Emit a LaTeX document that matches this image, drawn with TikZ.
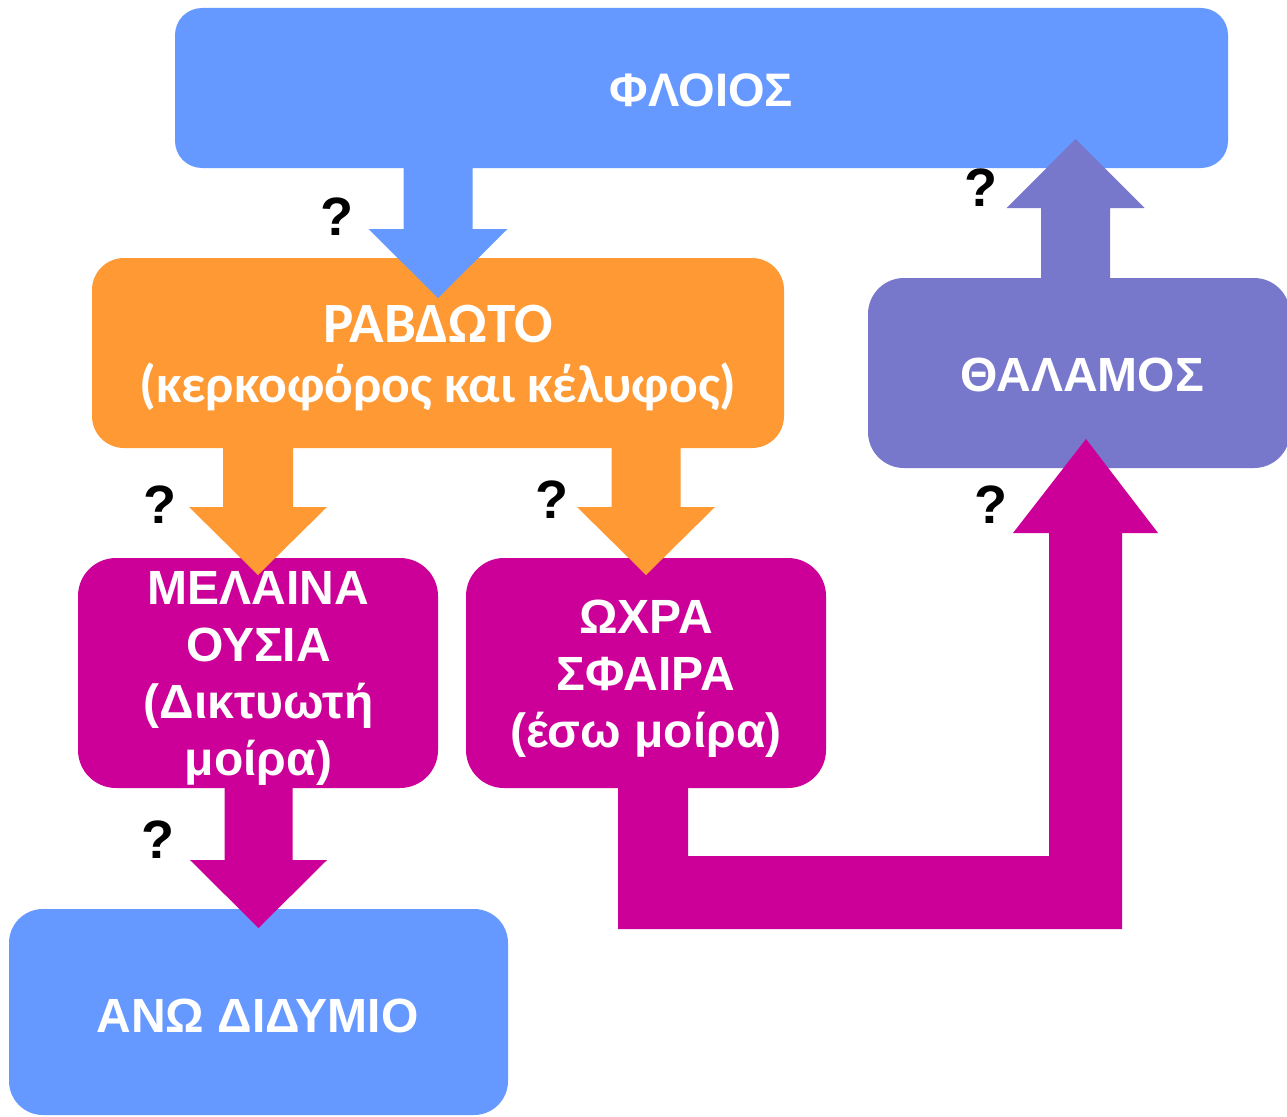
\documentclass[tikz,border=0pt]{standalone}
\usepackage{fontspec}
\setmainfont{Liberation Sans}
\newfontfamily\calib{Carlito}
\usetikzlibrary{calc}
\definecolor{cblue}{HTML}{6699FF}
\definecolor{corange}{HTML}{FF9933}
\definecolor{cmag}{HTML}{CC0099}
\definecolor{cslate}{HTML}{7777CC}
\pgfdeclarelayer{bg}
\pgfdeclarelayer{mid}
\pgfsetlayers{bg,mid,main}
% #1 colour, #2 start, #3 tip, #4 shaft half width, #5 head half width, #6 head base offset from tip
\newcommand\vfat[6]{\fill[#1] ($(#2)+(-#4,0)$) -- ($(#3)+(-#4,#6)$) -- ($(#3)+(-#5,#6)$) -- (#3) -- ($(#3)+(#5,#6)$) -- ($(#3)+(#4,#6)$) -- ($(#2)+(#4,0)$) -- cycle;}
\tikzset{
  box/.style={rectangle, inner sep=0pt, outer sep=0pt},
  lbl/.style={text=white, font=\bfseries\fontsize{48}{57}\selectfont, inner sep=0pt, align=center},
  qm/.style={text=black, font=\bfseries\fontsize{54}{60}\selectfont, inner sep=0pt}
}
\begin{document}
\begin{tikzpicture}[x=1pt,y=-1pt]
\useasboundingbox (0,0) rectangle (1287,1116);
\begin{pgfonlayer}{bg}
\fill[white] (0,0) rectangle (1287,1116);
\node[box, fill=cblue, minimum width=1053pt, minimum height=160pt, rounded corners=27pt] (floios) at (701.5,88) {};
\node[box, fill=corange, minimum width=692pt, minimum height=190pt, rounded corners=32pt] (rav) at (438,353) {};
\node[box, fill=cmag, minimum width=360pt, minimum height=230pt, rounded corners=38pt] (mel) at (258,673) {};
\node[box, fill=cmag, minimum width=360pt, minimum height=230pt, rounded corners=38pt] (ochra) at (646,673) {};
\node[box, fill=cblue, minimum width=499pt, minimum height=206pt, rounded corners=34pt] (anw) at (258.5,1012) {};
\node[box, fill=cslate, minimum width=422pt, minimum height=190pt, rounded corners=36pt] (thal) at (1079,373) {};
\end{pgfonlayer}
\begin{pgfonlayer}{mid}
% floios -> rav
\coordinate (a1s) at (rav.north |- floios.south);
\coordinate (a1t) at ($(rav.north)+(0,40)$);
\vfat{cblue}{a1s}{a1t}{34.5}{69.5}{-69}
% rav -> mel
\coordinate (a2s) at (mel.north |- rav.south);
\coordinate (a2t) at ($(mel.north)+(0,17)$);
\vfat{corange}{a2s}{a2t}{35}{69}{-68}
% rav -> ochra
\coordinate (a3s) at (ochra.north |- rav.south);
\coordinate (a3t) at ($(ochra.north)+(0,17)$);
\vfat{corange}{a3s}{a3t}{34.5}{69}{-68}
% mel -> anw
\coordinate (a4s) at (anw.north |- mel.south);
\coordinate (a4t) at ($(anw.north)+(0,19)$);
\vfat{cmag}{a4s}{a4t}{34}{68.5}{-68}
% thal -> floios
\coordinate (a5s) at ($(thal.north west)+(207.5,0)$);
\coordinate (a5t) at ($(floios.south -| a5s)+(0,-29)$);
\vfat{cslate}{a5s}{a5t}{34.5}{69}{69}
% ochra -> thal (elbow)
\coordinate (e0) at ($(ochra.south)+(7,0)$);
\coordinate (e1) at ($(thal.south west)+(218,-29)$);
\fill[cmag] ($(e0)+(-35,0)$) -- ($(e0)+(-35,141)$) -- ($(e1)+(36,490)$) -- ($(e1)+(36,94)$)
  -- ($(e1)+(72,94)$) -- (e1) -- ($(e1)+(-73,94)$) -- ($(e1)+(-37,94)$)
  -- ($(e1)+(-37,417)$) -- ($(e0)+(35,68)$) -- ($(e0)+(35,0)$) -- cycle;
\end{pgfonlayer}
% texts
\node[lbl, anchor=base, font=\bfseries\fontsize{47}{57}\selectfont] (tfloios) at (701.5,106) {ΦΛΟΙΟΣ};
\node[lbl, font=\calib\bfseries\fontsize{54}{60}\selectfont] (trav) at (438,358) {{\fontsize{57}{60}\selectfont ΡΑΒΔΩΤΟ}\\{\fontsize{53.5}{60}\selectfont (κερκοφόρος και κέλυφος)}};
\node[lbl] (tmel) at (258.5,678) {ΜΕΛΑΙΝΑ\\ΟΥΣΙΑ\\(Δικτυωτή\\μοίρα)};
\node[lbl] (tochra) at (646,679) {ΩΧΡΑ\\ΣΦΑΙΡΑ\\(έσω μοίρα)};
\node[lbl, anchor=base] (tthal) at (1082,391) {ΘΑΛΑΜΟΣ};
\node[lbl, anchor=base] (tanw) at (257.5,1032) {ΑΝΩ ΔΙΔΥΜΙΟ};
% question marks
\node[qm] (q1) at (337,217) {?};
\node[qm] (q2) at (981,188) {?};
\node[qm] (q3) at (160,505) {?};
\node[qm] (q4) at (552,500) {?};
\node[qm] (q5) at (991,505) {?};
\node[qm] (q6) at (158,840) {?};
\end{tikzpicture}
\end{document}
